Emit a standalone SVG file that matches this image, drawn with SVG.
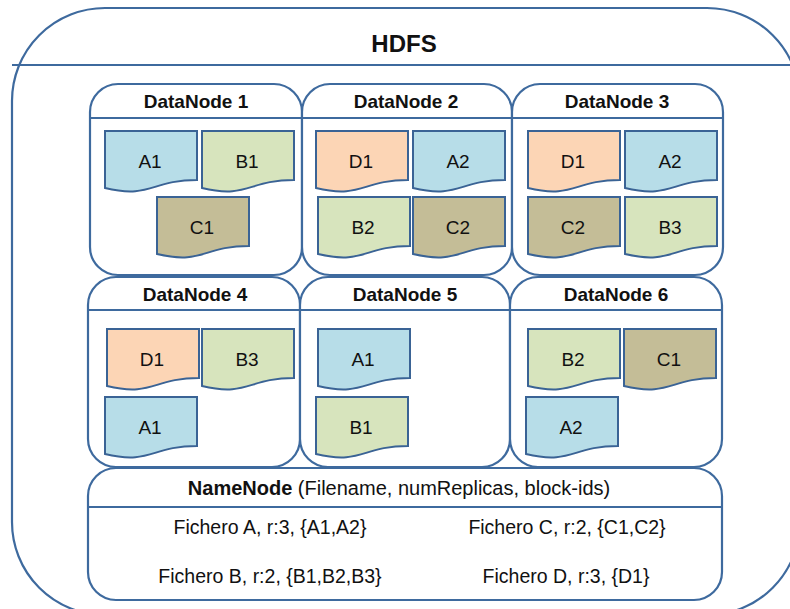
<svg xmlns="http://www.w3.org/2000/svg" width="790" height="609" viewBox="0 0 790 609">
<defs>
<style>
.box{fill:#fff;stroke:#3E6A9E;stroke-width:2.2}
.sep{stroke:#3E6A9E;stroke-width:2;fill:none}
.doc{stroke:#3A6395;stroke-width:2}
.a{fill:#B7DDE8}.b{fill:#D7E4BD}.c{fill:#C4BD97}.d{fill:#FCD5B5}
text{font-family:"Liberation Sans",Arial,sans-serif;fill:#111;text-anchor:middle}
.t{font-size:19px;font-weight:bold}
.l{font-size:19px}
.f{font-size:19.5px}
</style>
<path id="doc" d="M0,0 H92 V49 C46,49 46,68 0,57 Z"/>
</defs>
<rect width="790" height="609" fill="#fff"/>
<g id="hdfs">
<rect class="box" x="12" y="8" width="788" height="607" rx="93"/>
<line class="sep" x1="12" y1="65" x2="800" y2="65"/>
<text x="404" y="52" style="font-size:24px;font-weight:bold">HDFS</text>
</g>
<g id="dn1">
<rect class="box" x="90" y="84" width="212" height="191" rx="28"/>
<line class="sep" x1="90" y1="118" x2="302" y2="118"/>
<text class="t" x="196" y="108">DataNode 1</text>
<use href="#doc" class="doc a" x="105" y="131"/><text class="l" x="150" y="168">A1</text>
<use href="#doc" class="doc b" x="202" y="131"/><text class="l" x="247" y="168">B1</text>
<use href="#doc" class="doc c" x="157" y="197"/><text class="l" x="202" y="234">C1</text>
</g>
<g id="dn2">
<rect class="box" x="302" y="84" width="210" height="191" rx="28"/>
<line class="sep" x1="302" y1="118" x2="512" y2="118"/>
<text class="t" x="406" y="108">DataNode 2</text>
<use href="#doc" class="doc d" x="316" y="131"/><text class="l" x="361" y="168">D1</text>
<use href="#doc" class="doc a" x="413" y="131"/><text class="l" x="458" y="168">A2</text>
<use href="#doc" class="doc b" x="318" y="197"/><text class="l" x="363" y="234">B2</text>
<use href="#doc" class="doc c" x="413" y="197"/><text class="l" x="458" y="234">C2</text>
</g>
<g id="dn3">
<rect class="box" x="512" y="84" width="211" height="191" rx="28"/>
<line class="sep" x1="512" y1="118" x2="723" y2="118"/>
<text class="t" x="617" y="108">DataNode 3</text>
<use href="#doc" class="doc d" x="528" y="131"/><text class="l" x="573" y="168">D1</text>
<use href="#doc" class="doc a" x="625" y="131"/><text class="l" x="670" y="168">A2</text>
<use href="#doc" class="doc c" x="528" y="197"/><text class="l" x="573" y="234">C2</text>
<use href="#doc" class="doc b" x="625" y="197"/><text class="l" x="670" y="234">B3</text>
</g>
<g id="dn4">
<rect class="box" x="88" y="277" width="212" height="190" rx="28"/>
<line class="sep" x1="88" y1="310" x2="300" y2="310"/>
<text class="t" x="195" y="301">DataNode 4</text>
<use href="#doc" class="doc d" x="107" y="329"/><text class="l" x="152" y="366">D1</text>
<use href="#doc" class="doc b" x="202" y="329"/><text class="l" x="247" y="366">B3</text>
<use href="#doc" class="doc a" x="105" y="397"/><text class="l" x="150" y="434">A1</text>
</g>
<g id="dn5">
<rect class="box" x="300" y="277" width="210" height="190" rx="28"/>
<line class="sep" x1="300" y1="310" x2="510" y2="310"/>
<text class="t" x="405" y="301">DataNode 5</text>
<use href="#doc" class="doc a" x="318" y="329"/><text class="l" x="363" y="366">A1</text>
<use href="#doc" class="doc b" x="316" y="397"/><text class="l" x="361" y="434">B1</text>
</g>
<g id="dn6">
<rect class="box" x="510" y="277" width="212" height="190" rx="28"/>
<line class="sep" x1="510" y1="310" x2="722" y2="310"/>
<text class="t" x="616" y="301">DataNode 6</text>
<use href="#doc" class="doc b" x="528" y="329"/><text class="l" x="573" y="366">B2</text>
<use href="#doc" class="doc c" x="624" y="329"/><text class="l" x="669" y="366">C1</text>
<use href="#doc" class="doc a" x="526" y="397"/><text class="l" x="571" y="434">A2</text>
</g>
<g id="namenode">
<rect class="box" x="88" y="468" width="634" height="132" rx="28"/>
<line class="sep" x1="88" y1="507" x2="722" y2="507"/>
<text x="399" y="495" style="font-size:20px"><tspan font-weight="bold">NameNode</tspan> (Filename, numReplicas, block-ids)</text>
<text class="f" x="270" y="534">Fichero A, r:3, {A1,A2}</text>
<text class="f" x="270" y="583">Fichero B, r:2, {B1,B2,B3}</text>
<text class="f" x="567" y="534">Fichero C, r:2, {C1,C2}</text>
<text class="f" x="566" y="583">Fichero D, r:3, {D1}</text>
</g>
<g id="connectors"/>
</svg>
